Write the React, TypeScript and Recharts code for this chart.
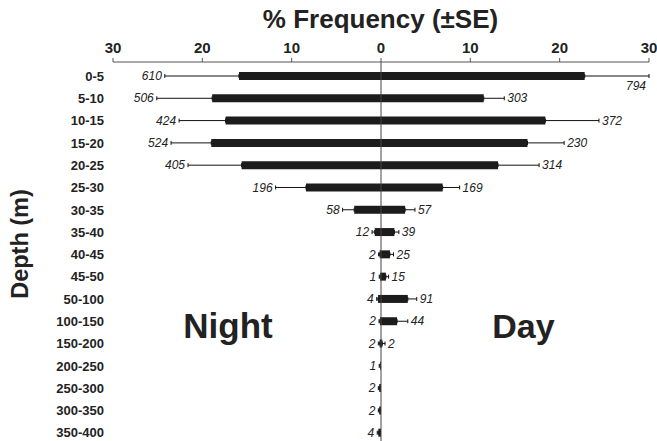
import React from "react";
import { BarChart, Bar, XAxis, YAxis, ErrorBar, ReferenceLine, LabelList } from "recharts";

const depths = ["0-5", "5-10", "10-15", "15-20", "20-25", "25-30", "30-35", "35-40", "40-45", "45-50", "50-100", "100-150", "150-200", "200-250", "250-300", "300-350", "350-400"];
const night = [15.9, 18.9, 17.4, 19.0, 15.6, 8.4, 3.0, 0.7, 0.15, 0.1, 0.33, 0.12, 0.15, 0.1, 0.2, 0.2, 0.3];
const nightSE = [8.3, 6.2, 5.2, 4.5, 6.0, 3.4, 1.3, 0.3, 0.12, 0.1, 0.15, 0.1, 0.15, 0.1, 0.1, 0.1, 0.12];
const day = [22.8, 11.5, 18.4, 16.4, 13.1, 6.9, 2.7, 1.5, 1.0, 0.55, 3.0, 1.8, 0.15, 0, 0, 0, 0];
const daySE = [7.2, 2.3, 6.0, 4.1, 4.6, 1.9, 1.1, 0.5, 0.4, 0.3, 1.0, 1.2, 0.3, 0, 0, 0, 0];
const nightN = [610, 506, 424, 524, 405, 196, 58, 12, 2, 1, 4, 2, 2, 1, 2, 2, 4];
const dayN: (number | null)[] = [794, 303, 372, 230, 314, 169, 57, 39, 25, 15, 91, 44, 2, null, null, null, null];
const xTicks = [-30, -20, -10, 0, 10, 20, 30];

const data = depths.map((depth, i) => ({
  depth,
  night: -night[i],
  nightErr: [nightSE[i], 0],
  day: day[i],
  dayErr: [0, daySE[i]],
  nightN: nightN[i],
  dayN: dayN[i],
}));

const font = "'Liberation Sans', Arial, sans-serif";
const ink = "#222";

// count labels sit just past the end of each error bar
function countLabel(side: "night" | "day") {
  return (props: any) => {
    const idx = props.index;
    const row = data[idx];
    if (!row) return null;
    const n = side === "night" ? row.nightN : row.dayN;
    if (n == null) return null;
    const vb = props.viewBox ?? props;
    const x0 = Number(vb.x);
    const w = Number(vb.width);
    const h = Number(vb.height);
    const y = Number(vb.y) + h / 2;
    const v = Math.abs(side === "night" ? row.night : row.day);
    if (!v) return null;
    const k = Math.abs(w) / v;
    const left = Math.min(x0, x0 + w);
    const right = Math.max(x0, x0 + w);
    if (side === "night") {
      const end = left - nightSE[idx] * k;
      return (
        <text x={end - 3} y={y} dy="0.35em" textAnchor="end" fontSize={12} fontStyle="italic" fill={ink} fontFamily={font}>
          {n}
        </text>
      );
    }
    const end = right + daySE[idx] * k;
    if (end > 620) {
      return (
        <text x={end - 3} y={y + 10} dy="0.35em" textAnchor="end" fontSize={12} fontStyle="italic" fill={ink} fontFamily={font}>
          {n}
        </text>
      );
    }
    return (
      <text x={end + 3} y={y} dy="0.35em" textAnchor="start" fontSize={12} fontStyle="italic" fill={ink} fontFamily={font}>
        {n}
      </text>
    );
  };
}

export default function App() {
  return (
    <div style={{ position: "absolute", left: 0, top: 0, width: 657, height: 441, overflow: "hidden", background: "#fff" }}>
      <BarChart
        width={657}
        height={444}
        data={data}
        layout="vertical"
        barSize={8}
        barGap={-8}
        margin={{ top: 32, right: 8, left: 0, bottom: 0 }}
      >
        <XAxis
          type="number"
          orientation="top"
          domain={[-30, 30]}
          ticks={xTicks}
          tickFormatter={(v: number) => String(Math.abs(v))}
          height={30}
          stroke="#555"
          tickSize={4}
          tickMargin={5}
          tick={{ fontSize: 15, fontWeight: 700, fill: ink, fontFamily: font }}
        />
        <YAxis
          type="category"
          dataKey="depth"
          width={113}
          axisLine={false}
          tickLine={false}
          tickSize={0}
          tickMargin={9}
          interval={0}
          padding={{ top: 3, bottom: 0 }}
          tick={{ fontSize: 13, fontWeight: 700, fill: ink, fontFamily: font }}
        />
        <Bar dataKey="night" fill="#1c1c1c" isAnimationActive={false}>
          <ErrorBar dataKey="nightErr" direction="x" width={2} stroke="#111" strokeWidth={1} />
          <LabelList dataKey="nightN" content={countLabel("night")} />
        </Bar>
        <Bar dataKey="day" fill="#1c1c1c" isAnimationActive={false}>
          <ErrorBar dataKey="dayErr" direction="x" width={2} stroke="#111" strokeWidth={1} />
          <LabelList dataKey="dayN" content={countLabel("day")} />
        </Bar>
        <ReferenceLine x={0} stroke="#444" strokeWidth={1} />
        <text x={380.5} y={28} textAnchor="middle" fontSize={26} fontWeight={700} fill={ink} fontFamily={font}>
          % Frequency (±SE)
        </text>
        <text transform="translate(28,244) rotate(-90)" textAnchor="middle" fontSize={23.5} fontWeight={700} fill={ink} fontFamily={font}>
          Depth (m)
        </text>
        <text x={228} y={338} textAnchor="middle" fontSize={35} fontWeight={700} fill={ink} fontFamily={font}>
          Night
        </text>
        <text x={523.5} y={338} textAnchor="middle" fontSize={34} fontWeight={700} fill={ink} fontFamily={font}>
          Day
        </text>
      </BarChart>
    </div>
  );
}
